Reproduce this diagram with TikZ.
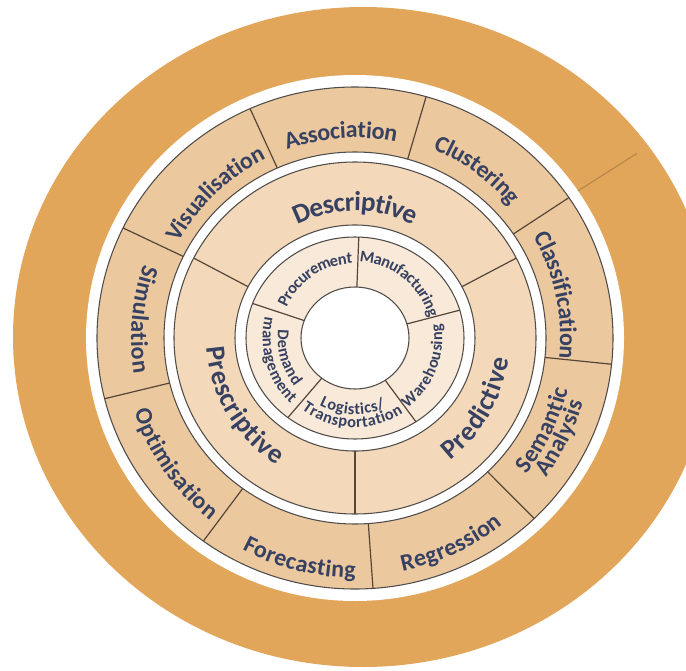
\documentclass[tikz,border=0pt]{standalone}
\usepackage{fontspec}
\setmainfont{Carlito}
\usetikzlibrary{decorations.text}

\definecolor{ringorange}{RGB}{226,166,90}
\definecolor{techfill}{RGB}{235,200,158}
\definecolor{midfill}{RGB}{243,217,186}
\definecolor{funcfill}{RGB}{248,233,216}
\definecolor{ringline}{RGB}{80,76,74}
\definecolor{sepbrown}{RGB}{85,70,56}
\definecolor{labelblue}{RGB}{55,65,98}

\newcommand{\techfont}{\bfseries\fontsize{18}{21}\selectfont}
\newcommand{\midfont}{\bfseries\fontsize{20.5}{24}\selectfont}
\newcommand{\funcfont}{\bfseries\fontsize{12.3}{14}\selectfont}

\tikzset{
  ring edge/.style={draw=ringline, line width=0.8},
  sep line/.style={draw=sepbrown, line width=0.9},
  tech label/.style={decorate, decoration={text along path, text align=center,
      text color=labelblue, raise=-5.9pt, text={|\techfont|#1}}},
  mid label/.style={decorate, decoration={text along path, text align=center,
      text color=labelblue, raise=-6.7pt, text={|\midfont|#1}}},
  func label/.style={decorate, decoration={text along path, text align=center,
      text color=labelblue, raise=-4pt, text={|\funcfont|#1}}}
}

\begin{document}
\begin{tikzpicture}[x=0.75pt,y=0.75pt,yscale=-1,xscale=1]
\useasboundingbox (0,0) rectangle (686,671);
\clip (0,0) rectangle (686,671);

%Shape: Ellipse (orange band)
\draw  [draw opacity=0][fill=ringorange ,fill opacity=1 ] (363,337) ellipse (350 and 330);

\begin{scope}[shift={(355,338)},yscale=-1]
%Shape: Ellipse (white gap)
\draw  [draw opacity=0][fill=white] (0,0) ellipse (269 and 263);
%Line in the orange band
\draw [color=ringorange!70!black ,draw opacity=0.6 ][line width=0.9]  (34:269 and 263) -- (34:340 and 330) ;

%Shape: Ring (techniques)
\draw  [ring edge][fill=techfill] (0,0) ellipse (258 and 251);
\draw  [ring edge][fill=white] (0,0) ellipse (191 and 186);
%Shape: Ring (analytics)
\draw  [ring edge][fill=midfill] (0,0) ellipse (181 and 176);
\draw  [ring edge][fill=white] (0,0) ellipse (120 and 113);
%Shape: Ring (functions)
\draw  [ring edge][fill=funcfill] (0,0) ellipse (109 and 101);
\draw  [ring edge][fill=white] (0,0) ellipse (54 and 51);

%Straight Lines (separators)
\foreach \a in {34,74,...,354}
  \draw [sep line] (\a:191 and 186) -- (\a:258 and 251) ;
\foreach \a in {27,153,270}
  \draw [sep line] (\a:120 and 113) -- (\a:181 and 176) ;
\foreach \a in {88,16,-56,-128,160}
  \draw [sep line] (\a:54 and 51) -- (\a:109 and 101) ;

% Text along the outer ring
\path [tech label={Visualisation}] (194:208) arc [start angle=194, end angle=74, radius=208] ;
\path [tech label={Association}] (154:208) arc [start angle=154, end angle=34, radius=208] ;
\path [tech label={Clustering}] (114:212) arc [start angle=114, end angle=-6, radius=212] ;
\path [tech label={Classification}] (72:213) arc [start angle=72, end angle=-48, radius=213] ;
\path [tech label={Semantic}] (-86:211) arc [start angle=-86, end angle=34, radius=211] ;
\path [tech label={Analysis}] (-86:229) arc [start angle=-86, end angle=34, radius=229] ;
\path [tech label={Regression}] (-125:230) arc [start angle=-125, end angle=-5, radius=230] ;
\path [tech label={Forecasting}] (-164:232) arc [start angle=-164, end angle=-44, radius=232] ;
\path [tech label={Optimisation}] (155:225) arc [start angle=155, end angle=275, radius=225] ;
\path [tech label={Simulation}] (115:216) arc [start angle=115, end angle=235, radius=216] ;

% Text along the middle ring
\path [mid label={Descriptive}] (160:136) arc [start angle=160, end angle=20, radius=136] ;
\path [mid label={Predictive}] (-100:146) arc [start angle=-100, end angle=40, radius=146] ;
\path [mid label={Prescriptive}] (141:140) arc [start angle=141, end angle=281, radius=140] ;

% Text along the inner ring
\path [func label={Procurement}] (194:80) arc [start angle=194, end angle=54, radius=80] ;
\path [func label={Manufacturing}] (121:82) arc [start angle=121, end angle=-19, radius=82] ;
\path [func label={Warehousing}] (-92:82) arc [start angle=-92, end angle=48, radius=82] ;
\path [func label={Logistics/}] (-162:71) arc [start angle=-162, end angle=-22, radius=71] ;
\path [func label={Transportation}] (-162:84) arc [start angle=-162, end angle=-22, radius=84] ;
\path [func label={Demand}] (126:72) arc [start angle=126, end angle=266, radius=72] ;
\path [func label={management}] (126:87) arc [start angle=126, end angle=266, radius=87] ;
\end{scope}

\end{tikzpicture}
\end{document}
